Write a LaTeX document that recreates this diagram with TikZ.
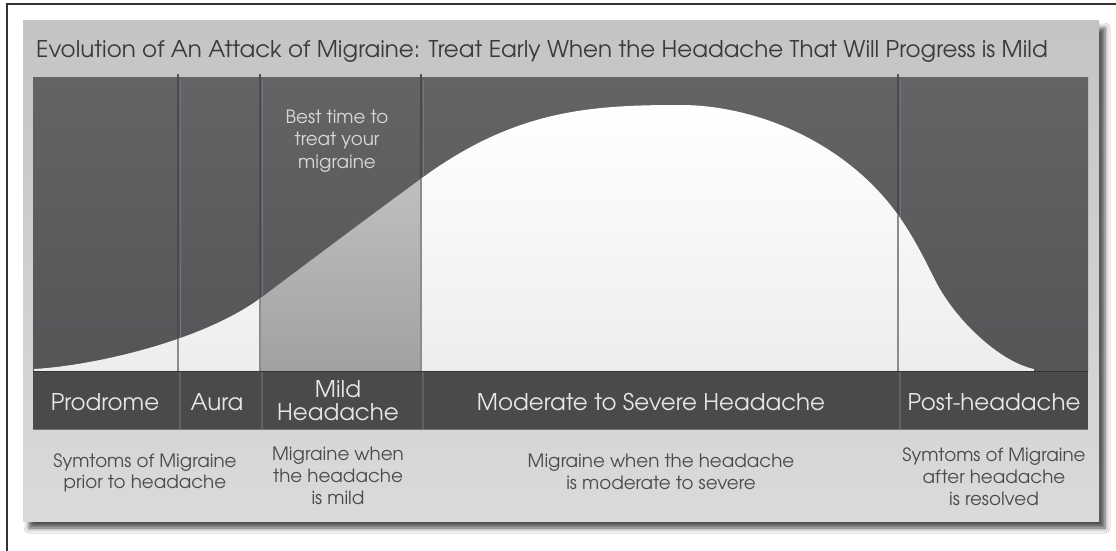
\documentclass[tikz,border=0pt]{standalone}
\usepackage{fontspec}
\setmainfont{TeX Gyre Adventor}
\usetikzlibrary{shadows.blur}
\definecolor{panelTop}{HTML}{C3C4C6}
\definecolor{panelBot}{HTML}{D9DADC}
\definecolor{dkTop}{HTML}{636466}
\definecolor{dkBot}{HTML}{545557}
\definecolor{bandc}{HTML}{4A4A4C}
\definecolor{mildTop}{HTML}{C0C1C3}
\definecolor{mildBot}{HTML}{A0A1A3}
\definecolor{groove}{HTML}{4A4B4D}
\definecolor{ridge}{HTML}{747578}
\definecolor{titlec}{HTML}{3A3A3A}
\definecolor{descc}{HTML}{4B4B4B}
\definecolor{lblc}{HTML}{E6E6E6}
\definecolor{bestc}{HTML}{D8D8D8}
\tikzset{
  titletxt/.style={text=titlec, font=\fontsize{23}{27}\selectfont, inner sep=0pt},
  lbl/.style={text=lblc, font=\fontsize{23}{27}\selectfont, inner sep=0pt, anchor=base},
  desc/.style={text=descc, font=\fontsize{18.3}{22}\selectfont, inner sep=0pt, anchor=base},
  best/.style={text=bestc, font=\fontsize{18.3}{22}\selectfont, inner sep=0pt, anchor=base},
  grooveline/.style={line width=2.6pt, draw=groove, line cap=round},
  ridgeline/.style={line width=0.9pt, draw=ridge},
  whiteline/.style={line width=2pt, draw=black!45},
}
\begin{document}
\begin{tikzpicture}[x=1pt,y=-1pt]
\useasboundingbox (0,0) rectangle (1116,551);
\fill[white] (0,0) rectangle (1116,551);
\draw[line width=1.4pt, black!80] (7,551) -- (7,4) -- (1116,4);
% panel
\path[top color=panelTop, bottom color=panelBot,
  blur shadow={shadow xshift=6pt, shadow yshift=-7pt, shadow blur radius=5pt, shadow opacity=70}]
  (23,21) rectangle (1099,521);
% dark chart area
\path[top color=dkTop, bottom color=dkBot] (33,77) rectangle (1088,371);
% dividers in the dark area
\foreach \dx in {178,260,421,898}{
  \draw[grooveline] (\dx,75) -- (\dx,371);
  \draw[ridgeline] (\dx+2,80) -- (\dx+2,371);
}
% white area under the curve
\path[top color=white, bottom color=black!7]
  (34,371) -- (34,369) .. controls (90,366) and (202,342) .. (262,297)
  .. controls (317,255.75) and (372,214.5) .. (422,178)
  .. controls (515,110) and (590,105) .. (680,105)
  .. controls (760,105) and (848,145) .. (898,215)
  .. controls (913,236) and (923,256) .. (935,280)
  .. controls (955,320) and (1000,362) .. (1034,369) -- (1034,371) -- cycle;
% mild column shading and light dividers over the white area
\begin{scope}
  \clip (34,371) -- (34,369) .. controls (90,366) and (202,342) .. (262,297)
  .. controls (317,255.75) and (372,214.5) .. (422,178)
  .. controls (515,110) and (590,105) .. (680,105)
  .. controls (760,105) and (848,145) .. (898,215)
  .. controls (913,236) and (923,256) .. (935,280)
  .. controls (955,320) and (1000,362) .. (1034,369) -- (1034,371) -- cycle;
  \fill[top color=mildTop, bottom color=mildBot] (261,170) rectangle (420,371);
  \foreach \dx in {178,260,421,898}{
    \draw[whiteline] (\dx,75) -- (\dx,371);
  }
\end{scope}
% label band
\fill[bandc] (33,371) rectangle (1088,429);
\draw[line width=1pt, black!80] (33,371.5) -- (1088,371.5);
\draw[line width=1pt, black!55] (33,429) -- (1088,429);
\foreach \dx in {178,260,421,898}{
  \draw[line width=2.6pt, draw=groove] (\dx,372) -- (\dx,429);
  \draw[line width=1.6pt, draw=black!62] (\dx+2.2,372) -- (\dx+2.2,429);
}
% title
\node[titletxt, anchor=base west] (title) at (36,58) {Evolution of An Attack of Migraine: Treat Early When the Headache That Will Progress is Mild};
% best time
\node[best] (best1) at (337,123) {Best time to};
\node[best] (best2) at (337,145.5) {treat your};
\node[best] (best3) at (337,168) {migraine};
% band labels
\node[lbl] (prodrome) at (105,410) {Prodrome};
\node[lbl] (aura) at (217,410) {Aura};
\node[lbl] (mild1) at (338,397) {Mild};
\node[lbl] (mild2) at (338,420) {Headache};
\node[lbl] (moderate) at (651,410) {Moderate to Severe Headache};
\node[lbl] (post) at (994,410) {Post-headache};
% descriptions
\node[desc] (d1a) at (145,467) {Symtoms of Migraine};
\node[desc] (d1b) at (145,488.5) {prior to headache};
\node[desc] (d2a) at (338,460) {Migraine when};
\node[desc] (d2b) at (338,482) {the headache};
\node[desc] (d2c) at (338,504) {is mild};
\node[desc] (d3a) at (661,467) {Migraine when the headache};
\node[desc] (d3b) at (661,489) {is moderate to severe};
\node[desc] (d4a) at (994,461) {Symtoms of Migraine};
\node[desc] (d4b) at (994,483) {after headache};
\node[desc] (d4c) at (994,505) {is resolved};
\end{tikzpicture}
\end{document}
